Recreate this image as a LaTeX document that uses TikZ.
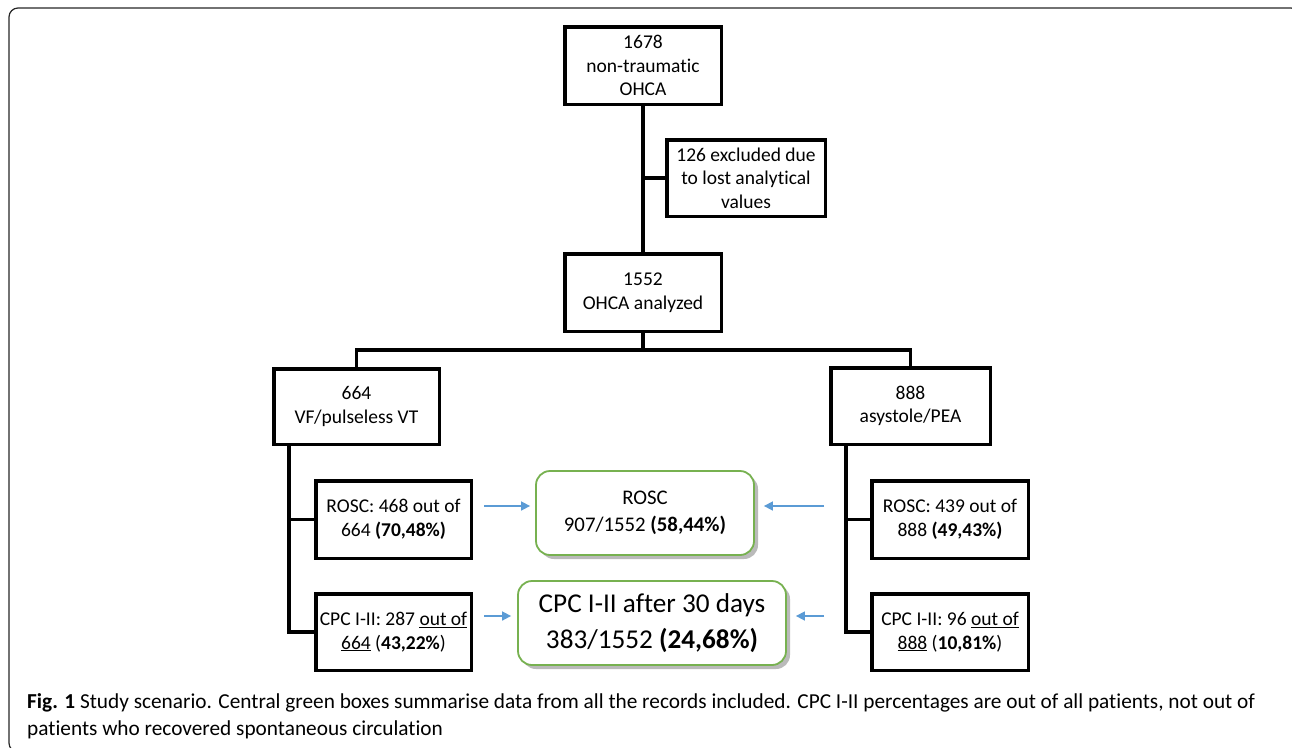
\documentclass[tikz,border=0pt]{standalone}
\usepackage{fontspec}
\setmainfont[Ligatures=NoCommon]{Carlito}
\usetikzlibrary{arrows.meta,shadows}
\definecolor{grnline}{HTML}{77B150}
\definecolor{arrblue}{HTML}{5B9BD5}
\tikzset{
  blk/.style={draw, line width=3.5pt, align=center, inner sep=2pt,
    font=\fontsize{19.5}{23.5}\selectfont},
  grn/.style={draw=grnline, line width=1.8pt, rounded corners=14pt, fill=white,
    align=center, drop shadow={shadow xshift=4pt, shadow yshift=-4pt,
    fill=black!45, opacity=.6}},
  link/.style={line width=3.5pt},
  arr/.style={draw=arrblue, line width=1.6pt, -{Triangle[length=9pt,width=9pt]}}
}
\begin{document}
\begin{tikzpicture}[x=1pt, y=-1pt]
      \useasboundingbox (0,0) rectangle (1292,747);
      %%frame
      \draw[line width=1.2pt, black!85, rounded corners=9pt](9, 8) rectangle (1300, 752);

      %%top of the flow
      \node[blk, minimum width=156.5pt, minimum height=77.5pt] (top) at (643, 65.5)
        {1678\\non-traumatic\\OHCA};
      \node[blk, minimum width=158.5pt, minimum height=76.5pt] (excl) at (746, 178)
        {126 excluded due\\to lost analytical\\values};
      \node[blk, minimum width=156.5pt, minimum height=77.5pt] (ana) at (643, 292.5)
        {1552\\OHCA analyzed};
      \draw[link](top) to (ana);
      \draw[link](excl.west) to (excl.west -| top.south);

      %%rhythm groups
      \node[blk, minimum width=165.5pt, minimum height=75.5pt] (vf) at (356.5, 406.5)
        {664\\VF/pulseless VT};
      \node[blk, minimum width=159.5pt, minimum height=76.5pt] (asy) at (910.5, 406)
        {888\\asystole/PEA};
      \coordinate (split) at (643, 350);
      \draw[link](ana) to (split);
      \draw[link](vf) |- (split) -| (asy);

      %%left branch
      \node[blk, minimum width=155.5pt, minimum height=77.5pt] (lrosc) at (393.5, 519.5)
        {ROSC: 468 out of\\664 \textbf{(70,48\%)}};
      \node[blk, minimum width=155.5pt, minimum height=76.5pt] (lcpc) at (393.5, 632)
        {CPC I-II: 287 \underline{out of}\\\underline{664} (\textbf{43,22\%})};
      \coordinate (lsp) at (289, 446);
      \draw[link](lsp) |- (lcpc.west);
      \draw[link](lsp |- lrosc.west) to (lrosc.west);

      %%right branch
      \node[blk, minimum width=156.5pt, minimum height=77.5pt] (rrosc) at (950, 519.5)
        {ROSC: 439 out of\\888 \textbf{(49,43\%)}};
      \node[blk, minimum width=156.5pt, minimum height=76.5pt] (rcpc) at (950, 632)
        {CPC I-II: 96 \underline{out of}\\\underline{888} (\textbf{10,81\%})};
      \coordinate (rsp) at (846, 446);
      \draw[link](rsp) |- (rcpc.west);
      \draw[link](rsp |- rrosc.west) to (rrosc.west);

      %%green summaries
      \node[grn, minimum width=218pt, minimum height=84pt,
        font=\fontsize{20.8}{27.5}\selectfont] (grosc) at (645, 513)
        {ROSC\\907/1552 \textbf{(58,44\%)}};
      \node[grn, minimum width=268pt, minimum height=84pt,
        font=\fontsize{27.2}{36.5}\selectfont] (gcpc) at (652, 623)
        {CPC I-II after 30 days\\383/1552 \textbf{(24,68\%)}};

      %%blue arrows
      \coordinate (a1) at (484, 506);
      \coordinate (a2) at (824, 506);
      \coordinate (a3) at (484, 616);
      \coordinate (a4) at (824, 616);
      \draw[arr, shorten >=5pt](a1) to (a1 -| grosc.west);
      \draw[arr, shorten >=9pt](a2) to (a2 -| grosc.east);
      \draw[arr, shorten >=6pt](a3) to (a3 -| gcpc.west);
      \draw[arr, shorten >=9pt](a4) to (a4 -| gcpc.east);

      %%caption
      \node[anchor=north west, align=left, inner sep=0pt,
        font=\fontsize{21.3}{27}\selectfont] (cap) at (27, 693)
        {\textbf{Fig. 1} Study scenario. Central green boxes summarise data from all the records included. CPC I-II percentages are out of all patients, not out of\\
         patients who recovered spontaneous circulation};
\end{tikzpicture}
\end{document}
